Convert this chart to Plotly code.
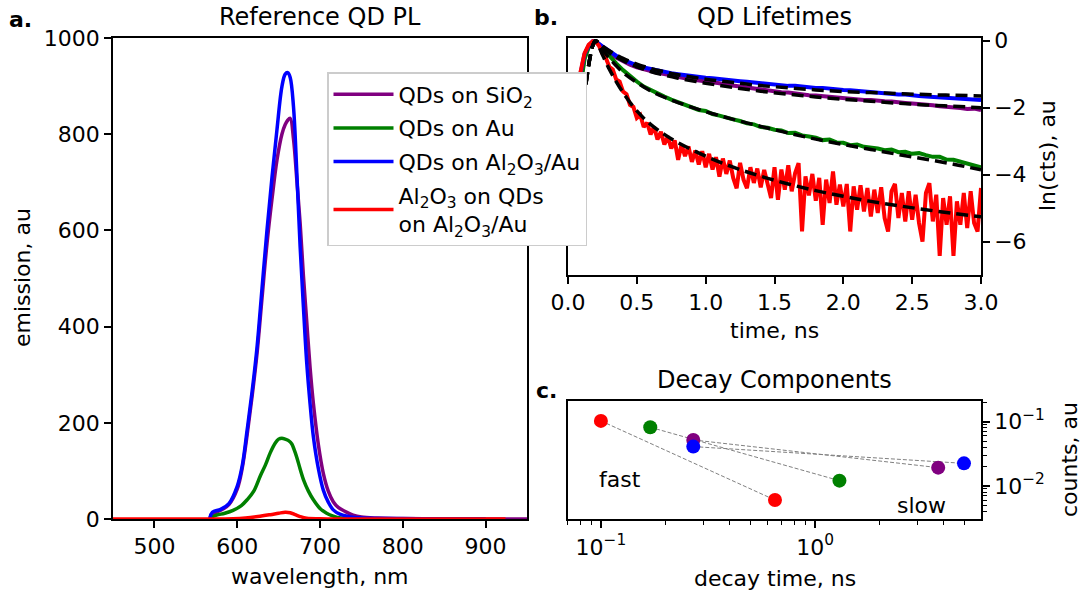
import plotly.graph_objects as go

W, H = 1085, 595
FONT = "DejaVu Sans"

PURPLE, GREEN, BLUE, RED = "#800080", "#008000", "#0000ff", "#ff0000"

# ---------------- a. reference photoluminescence spectra ----------------
wl_sio2 = [567, 570, 580, 590, 600, 606, 612, 618, 624, 630, 636, 642, 648, 654, 658, 661, 664,
           668, 672, 676, 680, 684, 688, 692, 698, 704, 710, 716, 722, 730, 740, 750, 770, 800, 850, 950]
pl_sio2 = [2, 10, 18, 30, 62, 105, 175, 255, 345, 460, 573, 665, 746, 800, 820, 829, 833,
           790, 705, 615, 505, 410, 315, 240, 155, 95, 58, 36, 24, 16, 8, 4, 2, 1, 0, 0]

wl_au = [567, 575, 585, 595, 605, 612, 620, 628, 634, 640, 646, 650, 654, 658, 662, 666, 669,
         672, 676, 680, 686, 692, 700, 708, 716, 725, 740, 760, 900]
pl_au = [2, 8, 12, 18, 28, 40, 58, 90, 112, 138, 158, 166, 168, 166, 163, 156, 143,
         128, 104, 82, 58, 40, 22, 12, 6, 2, 1, 0, 0]

wl_al2o3_au = [567, 570, 580, 590, 600, 606, 612, 618, 624, 630, 636, 642, 648, 654, 658, 661, 664,
               668, 672, 676, 680, 684, 688, 692, 698, 704, 710, 716, 724, 735, 750, 780, 850, 900]
pl_al2o3_au = [2, 14, 20, 32, 68, 110, 185, 265, 358, 480, 601, 710, 809, 899, 925, 928, 918,
               857, 720, 566, 440, 324, 240, 171, 105, 60, 35, 19, 10, 5, 2, 1, 0, 0]

wl_capped = [450, 560, 595, 610, 625, 640, 650, 658, 664, 670, 676, 684, 700, 720, 924]
pl_capped = [0, 0, 0.5, 2, 5, 9, 12, 14, 13, 9, 5, 1.5, 0.5, 0, 0]

# ---------------- b. normalised lifetime traces, ln(counts) ----------------
t_rise = [0.00, 0.03, 0.06, 0.09, 0.12, 0.15, 0.18]
t_decay = [0.20, 0.25, 0.30, 0.35, 0.40, 0.45, 0.50, 0.55, 0.60, 0.65, 0.70, 0.75, 0.80, 0.85,
           0.90, 0.95, 1.00, 1.05, 1.10, 1.15, 1.20, 1.25, 1.30, 1.35, 1.40, 1.45, 1.50, 1.55,
           1.60, 1.65, 1.70, 1.75, 1.80, 1.85, 1.90, 1.95, 2.00, 2.05, 2.10, 2.15, 2.20, 2.25,
           2.30, 2.35, 2.40, 2.45, 2.50, 2.55, 2.60, 2.65, 2.70, 2.75, 2.80, 2.85, 2.90, 2.95, 3.00]

lt_sio2_rise = [-5.0, -4.5, -3.3, -1.3, -0.5, -0.18, -0.03]
lt_sio2 = [-0.02, -0.19, -0.37, -0.50, -0.62, -0.72, -0.80, -0.86, -0.91, -0.96, -1.00, -1.05,
           -1.07, -1.12, -1.16, -1.18, -1.21, -1.25, -1.27, -1.32, -1.33, -1.37, -1.40, -1.43,
           -1.46, -1.49, -1.50, -1.54, -1.55, -1.58, -1.59, -1.63, -1.64, -1.66, -1.68, -1.70,
           -1.71, -1.74, -1.74, -1.77, -1.77, -1.80, -1.81, -1.82, -1.85, -1.86, -1.88, -1.89,
           -1.92, -1.93, -1.96, -1.97, -2.00, -2.01, -2.04, -2.03, -2.07]

lt_au_rise = [-5.1, -4.6, -3.4, -1.4, -0.55, -0.2, -0.04]
lt_au = [-0.02, -0.22, -0.46, -0.68, -0.88, -1.06, -1.22, -1.37, -1.48, -1.58, -1.67, -1.76,
         -1.83, -1.93, -1.99, -2.07, -2.10, -2.19, -2.24, -2.31, -2.35, -2.40, -2.47, -2.50,
         -2.58, -2.60, -2.66, -2.68, -2.76, -2.75, -2.83, -2.86, -2.90, -2.97, -2.95, -3.04,
         -3.05, -3.12, -3.10, -3.17, -3.19, -3.22, -3.27, -3.25, -3.33, -3.32, -3.38, -3.36,
         -3.42, -3.47, -3.47, -3.55, -3.56, -3.62, -3.65, -3.72, -3.78]

lt_al2o3_au_rise = [-4.9, -4.3, -3.0, -1.0, -0.4, -0.15, -0.02]
lt_al2o3_au = [-0.02, -0.17, -0.32, -0.45, -0.57, -0.66, -0.74, -0.80, -0.85, -0.90, -0.94,
               -0.97, -1.00, -1.03, -1.06, -1.08, -1.11, -1.12, -1.15, -1.17, -1.19, -1.21,
               -1.23, -1.25, -1.28, -1.28, -1.31, -1.32, -1.35, -1.35, -1.38, -1.39, -1.41,
               -1.41, -1.44, -1.45, -1.47, -1.48, -1.50, -1.51, -1.53, -1.55, -1.57, -1.58,
               -1.61, -1.61, -1.64, -1.65, -1.67, -1.68, -1.69, -1.71, -1.71, -1.73, -1.74,
               -1.76, -1.77]

# capped sample is noisier, so it is binned more finely
t_capped = [0.200, 0.225, 0.250, 0.275, 0.300, 0.325, 0.350, 0.375, 0.400, 0.425, 0.450, 0.475,
            0.500, 0.525, 0.550, 0.575, 0.600, 0.625, 0.650, 0.675, 0.700, 0.725, 0.750, 0.775,
            0.800, 0.825, 0.850, 0.875, 0.900, 0.925, 0.950, 0.975, 1.000, 1.025, 1.050, 1.075,
            1.100, 1.125, 1.150, 1.175, 1.200, 1.225, 1.250, 1.275, 1.300, 1.325, 1.350, 1.375,
            1.400, 1.425, 1.450, 1.475, 1.500, 1.525, 1.550, 1.575, 1.600, 1.625, 1.650, 1.675,
            1.700, 1.725, 1.750, 1.775, 1.800, 1.825, 1.850, 1.875, 1.900, 1.925, 1.950, 1.975,
            2.000, 2.025, 2.050, 2.075, 2.100, 2.125, 2.150, 2.175, 2.200, 2.225, 2.250, 2.275,
            2.300, 2.325, 2.350, 2.375, 2.400, 2.425, 2.450, 2.475, 2.500, 2.525, 2.550, 2.575,
            2.600, 2.625, 2.650, 2.675, 2.700, 2.725, 2.750, 2.775, 2.800, 2.825, 2.850, 2.875,
            2.900, 2.925, 2.950, 2.975, 3.000]
lt_capped_rise = [-4.8, -4.2, -2.8, -0.95, -0.38, -0.12, -0.02]
lt_capped = [-0.02, -0.15, -0.38, -0.52, -0.78, -0.86, -1.16, -1.22, -1.52, -1.60, -1.92, -1.98,
             -2.31, -2.22, -2.58, -2.45, -2.80, -2.57, -2.95, -2.72, -3.10, -2.86, -3.22, -2.98,
             -3.56, -3.10, -3.45, -3.16, -3.62, -3.28, -3.70, -3.30, -3.78, -3.38, -3.85, -3.48,
             -4.06, -3.52, -3.98, -3.58, -4.10, -4.41, -3.65, -4.15, -4.41, -3.78, -4.25, -3.82,
             -4.38, -3.86, -4.30, -4.70, -3.78, -4.75, -3.85, -4.45, -3.72, -4.50, -3.95, -3.66,
             -5.70, -4.05, -4.62, -3.98, -4.78, -4.10, -5.50, -4.15, -4.85, -3.91, -4.90, -4.30,
             -4.95, -4.28, -5.70, -4.35, -5.05, -4.32, -5.10, -4.40, -5.25, -4.45, -5.15, -4.38,
             -5.30, -5.70, -4.50, -4.28, -5.30, -4.55, -5.40, -4.50, -5.35, -4.60, -5.45, -6.00,
             -4.55, -4.26, -5.40, -4.60, -6.43, -4.70, -5.50, -4.65, -6.43, -4.80, -5.50, -4.55,
             -5.60, -4.50, -5.45, -5.70, -4.40]

# bi-exponential fits (dashed)
t_fit = [0.13, 0.16, 0.18, 0.20, 0.25, 0.30, 0.35, 0.40, 0.50, 0.60, 0.70, 0.80, 1.0, 1.2,
         1.4, 1.6, 1.8, 2.0, 2.2, 2.4, 2.6, 2.8, 3.0]
fit_sio2 = [-1.3, -0.5, -0.15, 0.0, -0.19, -0.36, -0.49, -0.60, -0.78, -0.92, -1.03, -1.12,
            -1.27, -1.40, -1.51, -1.60, -1.68, -1.75, -1.81, -1.87, -1.92, -1.96, -2.00]
fit_au = [-1.3, -0.5, -0.15, 0.0, -0.27, -0.52, -0.75, -0.95, -1.25, -1.50, -1.69, -1.85,
          -2.12, -2.35, -2.56, -2.76, -2.94, -3.10, -3.25, -3.40, -3.54, -3.69, -3.86]
fit_al2o3_au = [-1.3, -0.5, -0.15, 0.0, -0.16, -0.30, -0.42, -0.53, -0.70, -0.83, -0.93, -1.02,
                -1.15, -1.25, -1.34, -1.41, -1.47, -1.52, -1.55, -1.58, -1.61, -1.63, -1.65]
fit_capped = [-1.3, -0.5, -0.15, 0.0, -0.42, -0.85, -1.22, -1.55, -2.10, -2.50, -2.80, -3.05,
              -3.45, -3.78, -4.05, -4.28, -4.48, -4.65, -4.80, -4.93, -5.05, -5.16, -5.26]

# ---------------- c. fitted decay components ----------------
samples = ["QDs on SiO2", "QDs on Au", "QDs on Al2O3/Au", "Al2O3 on QDs on Al2O3/Au"]
colors = [PURPLE, GREEN, BLUE, RED]
tau_fast = [0.27, 0.17, 0.27, 0.10]
amp_fast = [0.052, 0.082, 0.041, 0.103]
tau_slow = [3.76, 1.30, 4.96, 0.65]
amp_slow = [0.0193, 0.0121, 0.0225, 0.00605]


def px(x):
    return x / W


def py(y):
    return 1 - y / H


fig = go.Figure()

# panel a traces (these also feed the legend)
legend_names = ["QDs on SiO<sub>2</sub>", "QDs on Au", "QDs on Al<sub>2</sub>O<sub>3</sub>/Au",
                "Al<sub>2</sub>O<sub>3</sub> on QDs<br>on Al<sub>2</sub>O<sub>3</sub>/Au"]
spectra = [(wl_sio2, pl_sio2), (wl_au, pl_au), (wl_al2o3_au, pl_al2o3_au), (wl_capped, pl_capped)]
for k, ((wl, pl), name, c) in enumerate(zip(spectra, legend_names, colors)):
    fig.add_trace(go.Scatter(x=wl, y=pl, mode="lines", name=name, line=dict(color=c, width=3.5),
                             line_shape="spline", xaxis="x", yaxis="y", showlegend=True,
                             legendgroup=f"g{k}"))

# panel b traces
traces = [(t_rise + t_decay, lt_sio2_rise + lt_sio2),
          (t_rise + t_decay, lt_au_rise + lt_au),
          (t_rise + t_decay, lt_al2o3_au_rise + lt_al2o3_au),
          (t_rise + t_capped, lt_capped_rise + lt_capped)]
for (tt, yy), c in zip(traces, colors):
    fig.add_trace(go.Scatter(x=tt, y=yy, mode="lines", line=dict(color=c, width=4),
                             xaxis="x2", yaxis="y2", showlegend=False))
for fit in [fit_sio2, fit_au, fit_al2o3_au, fit_capped]:
    fig.add_trace(go.Scatter(x=t_fit, y=fit, mode="lines", line_shape="spline",
                             line=dict(color="black", width=3.5, dash="12px,6px"),
                             xaxis="x2", yaxis="y2", showlegend=False))

# panel c: connectors below, markers above
for i in range(len(samples)):
    fig.add_trace(go.Scatter(x=[tau_fast[i], tau_slow[i]], y=[amp_fast[i], amp_slow[i]],
                             mode="lines", line=dict(color="#808080", width=1, dash="4px,2px"),
                             xaxis="x3", yaxis="y3", showlegend=False))
for i in range(len(samples)):
    fig.add_trace(go.Scatter(x=[tau_fast[i], tau_slow[i]], y=[amp_fast[i], amp_slow[i]],
                             mode="markers", marker=dict(color=colors[i], size=14),
                             xaxis="x3", yaxis="y3", showlegend=False))

axis_common = dict(showline=True, mirror=True, linecolor="black", linewidth=1.6,
                   ticks="outside", ticklen=7, tickwidth=1.6, tickcolor="black",
                   showgrid=False, zeroline=False, automargin=False,
                   tickfont=dict(size=22, color="black"))

minor_x3 = [0.07, 0.08, 0.09, 0.2, 0.3, 0.4, 0.5, 0.6, 0.7, 0.8, 0.9, 2, 3, 4, 5]
minor_y3 = [0.004, 0.005, 0.006, 0.007, 0.008, 0.009, 0.02, 0.03, 0.04, 0.05, 0.06, 0.07,
            0.08, 0.09, 0.2]

fig.update_layout(
    width=W, height=H, margin=dict(l=0, r=0, t=0, b=0),
    paper_bgcolor="white", plot_bgcolor="white",
    font=dict(family=FONT, size=22, color="black"),
    xaxis=dict(domain=[px(113), px(527)], range=[450, 950], anchor="y",
               tickvals=[500, 600, 700, 800, 900], **axis_common),
    yaxis=dict(domain=[py(519), py(38)], range=[0, 1000], anchor="x",
               tickvals=[0, 200, 400, 600, 800, 1000], **axis_common),
    xaxis2=dict(domain=[px(568), px(981)], range=[0, 3], anchor="y2",
                tickvals=[0, 0.5, 1, 1.5, 2, 2.5, 3],
                ticktext=["0.0", "0.5", "1.0", "1.5", "2.0", "2.5", "3.0"], **axis_common),
    yaxis2=dict(domain=[py(275), py(38)], range=[-7.0, 0.08], anchor="x2", side="right",
                tickvals=[0, -2, -4, -6], ticktext=["0", "\u22122", "\u22124", "\u22126"],
                **axis_common),
    xaxis3=dict(domain=[px(567.5), px(981)], type="log", range=[-1.156, 0.775], anchor="y3",
                tickvals=[0.1, 1], ticktext=["10<sup>\u22121</sup>", "10<sup>0</sup>"],
                minor=dict(tickvals=minor_x3, ticks="outside", ticklen=4, tickwidth=1.2,
                           tickcolor="black", showgrid=False),
                **axis_common),
    yaxis3=dict(domain=[py(519.3), py(401)], type="log", range=[-2.518, -0.678], anchor="x3",
                side="right", tickvals=[0.01, 0.1],
                ticktext=["10<sup>\u22122</sup>", "10<sup>\u22121</sup>"],
                minor=dict(tickvals=minor_y3, ticks="outside", ticklen=4, tickwidth=1.2,
                           tickcolor="black", showgrid=False),
                **axis_common),
    legend=dict(x=px(327), y=py(72), xanchor="left", yanchor="top",
                bgcolor="white", bordercolor="#cccccc", borderwidth=1.5,
                font=dict(size=22, color="black"), itemwidth=60, tracegroupgap=2),
)

annotations = [
    # panel titles
    dict(text="Reference QD PL", x=px(320), y=py(17), size=24),
    dict(text="QD Lifetimes", x=px(774.5), y=py(17), size=24),
    dict(text="Decay Components", x=px(774.5), y=py(380), size=24),
    # axis titles
    dict(text="wavelength, nm", x=px(320), y=py(576), size=22),
    dict(text="time, ns", x=px(774.5), y=py(330), size=22),
    dict(text="decay time, ns", x=px(774.5), y=py(578), size=22),
    dict(text="emission, au", x=px(22), y=py(278), size=22, angle=-90),
    dict(text="ln(cts), au", x=px(1048), y=py(156), size=22, angle=-90),
    dict(text="counts, au", x=px(1069), y=py(460), size=22, angle=-90),
    # in-panel labels
    dict(text="fast", x=px(620), y=py(479), size=22),
    dict(text="slow", x=px(921), y=py(505), size=22),
    # panel letters
    dict(text="<b>a.</b>", x=px(20), y=py(19), size=22),
    dict(text="<b>b.</b>", x=px(546), y=py(17), size=22),
    dict(text="<b>c.</b>", x=px(546), y=py(390), size=22),
]
fig.update_layout(annotations=[
    dict(text=a["text"], x=a["x"], y=a["y"], xref="paper", yref="paper", showarrow=False,
         xanchor="center", yanchor="middle", textangle=a.get("angle", 0),
         font=dict(family=FONT, size=a["size"], color="black"))
    for a in annotations
])

fig.write_html("out.html")
